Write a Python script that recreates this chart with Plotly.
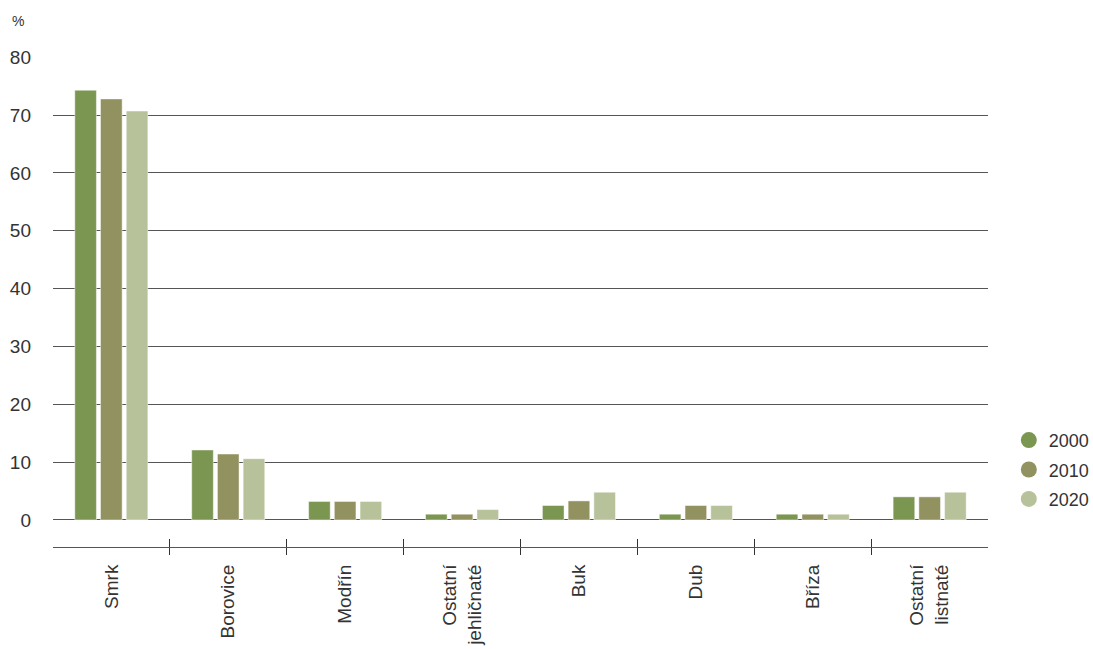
import plotly.graph_objects as go

categories = ["Smrk", "Borovice", "Modřín", "Ostatní<br>jehličnaté", "Buk", "Dub", "Bříza", "Ostatní<br>listnaté"]
years = ["2000", "2010", "2020"]
values_2000 = [74.3, 12.1, 3.2, 1.0, 2.5, 1.0, 1.0, 4.0]
values_2010 = [72.8, 11.4, 3.2, 1.0, 3.3, 2.5, 1.0, 4.0]
values_2020 = [70.7, 10.6, 3.2, 1.8, 4.8, 2.5, 1.0, 4.8]
colors = ["#7a9651", "#929160", "#b7c29b"]
y_ticks = [0, 10, 20, 30, 40, 50, 60, 70, 80]

FONT = "Liberation Sans, Arial, sans-serif"
TXT = "#333333"
GRID = "#555555"

fig = go.Figure()
for yr, vals, col in zip(years, [values_2000, values_2010, values_2020], colors):
    fig.add_trace(go.Bar(
        x=categories, y=vals, name=yr,
        marker=dict(color=col, line=dict(color="rgba(255,255,255,0.45)", width=1)),
        showlegend=False, legendgroup=yr,
    ))
for yr, col in zip(years, colors):
    fig.add_trace(go.Scatter(
        x=[None], y=[None], mode="markers", name=yr, legendgroup=yr,
        marker=dict(color=col, size=16, symbol="circle"),
    ))
# helper trace for overlay axis (upper half of the boundary ticks)
fig.add_trace(go.Scatter(x=categories, y=[None] * len(categories), xaxis="x2", showlegend=False,
                         hoverinfo="skip", mode="markers"))

fig.update_layout(
    width=1093, height=649,
    margin=dict(l=53, r=105, t=57, b=102, autoexpand=False),
    paper_bgcolor="white", plot_bgcolor="white",
    font=dict(family=FONT, color=TXT, size=19),
    barmode="group", bargap=0.34, bargroupgap=0.16,
    xaxis=dict(
        type="category", range=[-0.499, 7.499],
        showline=True, linecolor=GRID, linewidth=1,
        ticks="outside", ticklen=7, tickwidth=1, tickcolor="#333333",
        tickson="boundaries", tickangle=-90,
        tickfont=dict(family=FONT, size=19, color=TXT),
        ticklabelstandoff=9,
        showgrid=False, zeroline=False,
    ),
    xaxis2=dict(
        type="category", overlaying="x", matches="x", side="bottom", anchor="y",
        showline=False, ticks="inside", ticklen=8, tickwidth=1, tickcolor="#333333",
        tickson="boundaries", showticklabels=False, showgrid=False, zeroline=False,
    ),
    yaxis=dict(
        range=[-4.67, 80.05], tickvals=y_ticks, ticktext=[str(v) for v in y_ticks],
        showgrid=True, gridcolor=GRID, gridwidth=1,
        zeroline=False, showline=False, ticks="",
        tickfont=dict(family=FONT, size=19, color=TXT),
        ticklabelstandoff=21,
    ),
    legend=dict(
        xref="container", yref="container",
        x=0.923, xanchor="left", y=0.276, yanchor="middle",
        font=dict(family=FONT, size=18, color=TXT),
        itemsizing="trace", tracegroupgap=3, itemwidth=30,
        bgcolor="rgba(0,0,0,0)",
    ),
    annotations=[dict(
        text="%", xref="paper", yref="paper", x=0, y=1, xanchor="left", yanchor="middle",
        xshift=-43, yshift=36, showarrow=False, font=dict(family=FONT, size=14, color=TXT),
    )],
)

fig.write_html("out.html", config={"displayModeBar": False},
               post_script="document.body.style.margin='0';document.body.style.overflow='hidden';")
